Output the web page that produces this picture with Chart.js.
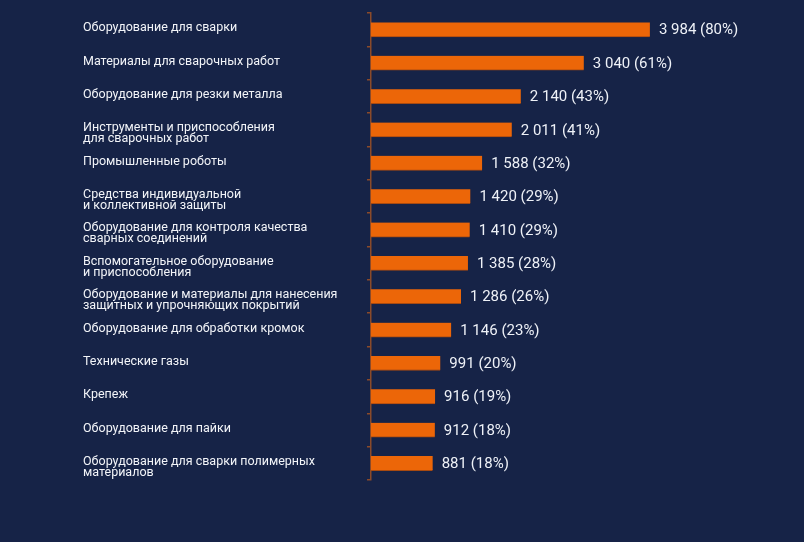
<!DOCTYPE html>
<html lang="ru">
<head>
    <meta charset="UTF-8">
    <title>Оборудование и материалы</title>
    <script src="https://cdn.jsdelivr.net/npm/chart.js"></script>
    <style>
        html, body {
            margin: 0;
            padding: 0;
            background: #162347;
        }
        .chart-wrapper {
            width: 804px;
            height: 542px;
        }
    </style>
</head>
<body>
    <div class="chart-wrapper">
        <canvas id="equipmentChart"></canvas>
    </div>

    <script>
        const categories = [
            ['Оборудование для сварки'],
            ['Материалы для сварочных работ'],
            ['Оборудование для резки металла'],
            ['Инструменты и приспособления', 'для сварочных работ'],
            ['Промышленные роботы'],
            ['Средства индивидуальной', 'и коллективной защиты'],
            ['Оборудование для контроля качества', 'сварных соединений'],
            ['Вспомогательное оборудование', 'и приспособления'],
            ['Оборудование и материалы для нанесения', 'защитных и упрочняющих покрытий'],
            ['Оборудование для обработки кромок'],
            ['Технические газы'],
            ['Крепеж'],
            ['Оборудование для пайки'],
            ['Оборудование для сварки полимерных', 'материалов']
        ];
        const counts = [3984, 3040, 2140, 2011, 1588, 1420, 1410, 1385, 1286, 1146, 991, 916, 912, 881];
        const percents = [80, 61, 43, 41, 32, 29, 29, 28, 26, 23, 20, 19, 18, 18];

        // labels in the original are top-aligned, so pad single lines with an empty second line
        const tickLabels = categories.map(l => l.length === 1 ? [l[0], ''] : l);

        // "3 984 (80%)" style labels at the end of each bar
        const valueLabels = {
            id: 'valueLabels',
            afterDatasetsDraw(chart) {
                const ctx = chart.ctx;
                const meta = chart.getDatasetMeta(0);
                ctx.save();
                ctx.font = '15px Roboto';
                ctx.fillStyle = '#eef1f7';
                ctx.textAlign = 'left';
                ctx.textBaseline = 'middle';
                meta.data.forEach((bar, i) => {
                    const num = counts[i].toLocaleString('ru-RU').replace(/\s/g, ' ');
                    ctx.fillText(num + ' (' + percents[i] + '%)', bar.x + 9, bar.y + 1);
                });
                ctx.restore();
            }
        };

        new Chart(document.getElementById('equipmentChart').getContext('2d'), {
            type: 'bar',
            data: {
                labels: tickLabels,
                datasets: [{
                    data: counts,
                    backgroundColor: '#ec6608',
                    borderColor: '#a84a10',
                    borderWidth: { top: 0, left: 0, right: 0, bottom: 1 },
                    borderSkipped: false,
                    barThickness: 14.5
                }]
            },
            options: {
                indexAxis: 'y',
                responsive: true,
                maintainAspectRatio: false,
                animation: false,
                layout: {
                    padding: { left: 83, right: 83, top: 13, bottom: 62 }
                },
                plugins: {
                    legend: { display: false },
                    tooltip: { enabled: false }
                },
                scales: {
                    x: {
                        display: false,
                        min: 0,
                        max: 5000
                    },
                    y: {
                        afterFit(scale) {
                            scale.width = 288;
                            scale.paddingTop = 0;
                            scale.paddingBottom = 0;
                        },
                        border: { color: '#8a4a2a', width: 1.5 },
                        grid: {
                            drawOnChartArea: false,
                            color: '#8a4a2a',
                            tickLength: 4,
                            lineWidth: 1.5
                        },
                        ticks: {
                            crossAlign: 'far',
                            color: '#f2f4f8',
                            padding: 8,
                            labelOffset: 4,
                            font: { family: 'Roboto', size: 12.5, lineHeight: 0.88 }
                        }
                    }
                }
            },
            plugins: [valueLabels]
        });
    </script>
</body>
</html>
